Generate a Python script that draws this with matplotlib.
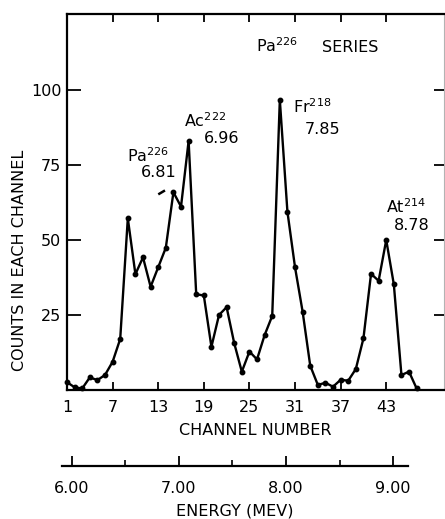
import numpy as np
import matplotlib
matplotlib.use("Agg")
import matplotlib.pyplot as plt

# data
channels = list(range(1, 48))
counts = [2.6, 0.9, 0.5, 4.2, 3.3, 5.0, 9.4, 17.0, 57.2, 38.6, 44.2, 34.4,
          40.9, 47.4, 65.9, 61.1, 83.0, 31.9, 31.5, 14.4, 25.0, 27.6, 15.6,
          6.1, 12.8, 10.2, 18.3, 24.7, 96.7, 59.4, 40.9, 26.1, 8.1, 1.7, 2.4,
          1.1, 3.4, 3.1, 7.0, 17.2, 38.7, 36.4, 50.0, 35.2, 5.0, 6.1, 0.5]
channel_ticks = [1, 7, 13, 19, 25, 31, 37, 43]
count_ticks = [25, 50, 75, 100]
energy_ticks = [6.0, 7.0, 8.0, 9.0]
energy_minor = [6.5, 7.5, 8.5]

# peak labels: (element, mass, energy, x, y of name, x, y of energy)
peaks = [
    ("Pa", "226", "6.81", 8.9, 76.0, 10.7, 71.0),
    ("Ac", "222", "6.96", 16.4, 87.7, 19.0, 82.3),
    ("Fr", "218", "7.85", 30.7, 92.3, 32.3, 85.3),
    ("At", "214", "8.78", 43.0, 59.0, 44.0, 53.3),
]

plt.rcParams["font.family"] = "DejaVu Sans"
fig = plt.figure(figsize=(4.45, 5.19), dpi=100)

ax = fig.add_axes([67 / 445, 1 - 390 / 519, 377 / 445, 376 / 519])
ax.plot(channels, counts, color="black", lw=1.7, marker="o", ms=3.2,
        solid_joinstyle="round", clip_on=False)
ax.set_xlim(1, 50.6)
ax.set_ylim(0, 125.3)

for s in ax.spines.values():
    s.set_linewidth(1.6)
ax.spines["right"].set_linewidth(0.8)
ax.spines["right"].set_color("0.7")

axr = ax.twinx()
axr.set_ylim(ax.get_ylim())
axr.set_yticks(count_ticks)
axr.set_yticklabels([])
axr.tick_params(axis="y", direction="in", length=7, width=1.3)
for s in axr.spines.values():
    s.set_visible(False)

ax.set_xticks(channel_ticks)
ax.set_xticklabels([str(c) for c in channel_ticks])
ax.set_yticks(count_ticks)
ax.set_yticklabels([str(c) for c in count_ticks])
ax.xaxis.set_ticks_position("both")
ax.tick_params(axis="x", direction="in", length=6, width=1.3, pad=7,
               labelsize=11.5, top=True, labeltop=False)
ax.tick_params(axis="y", direction="in", length=10, width=1.3, pad=4,
               labelsize=11.5)

ax.set_xlabel("CHANNEL NUMBER", fontsize=11.5, labelpad=6)
fig.text(20 / 445, 1 - 260 / 519, "COUNTS IN EACH CHANNEL", rotation=90,
         ha="center", va="center", fontsize=11.5)

# series title
ax.text(25.9, 112.8, r"Pa$^{226}$", fontsize=11.5, va="baseline")
ax.text(34.6, 112.8, "SERIES", fontsize=11.5, va="baseline")

for name, mass, energy, xn, yn, xe, ye in peaks:
    ax.text(xn, yn, name + r"$^{" + mass + "}$", fontsize=11.5, va="baseline")
    ax.text(xe, ye, energy, fontsize=11.5, va="baseline")

# little pointer mark near the Pa label
ax.plot([13.15, 13.75], [65.4, 66.3], color="black", lw=1.8)

# energy scale below
axe = fig.add_axes([62 / 445, 1 - 466 / 519, 346 / 445, 0.0001])
axe.set_xlim(5.907, 9.140)
axe.set_yticks([])
for side in ["left", "right", "top"]:
    axe.spines[side].set_visible(False)
axe.spines["bottom"].set_linewidth(1.6)
axe.set_xticks(energy_ticks)
axe.set_xticklabels(["%.2f" % e for e in energy_ticks])
axe.set_xticks(energy_minor, minor=True)
axe.tick_params(axis="x", which="major", direction="in", length=7, width=1.3,
                pad=11, labelsize=11.5)
axe.tick_params(axis="x", which="minor", direction="in", length=4.5, width=1.2)
axe.set_xlabel("ENERGY (MEV)", fontsize=11.5, labelpad=5)

fig.savefig("out.png", dpi=100)
